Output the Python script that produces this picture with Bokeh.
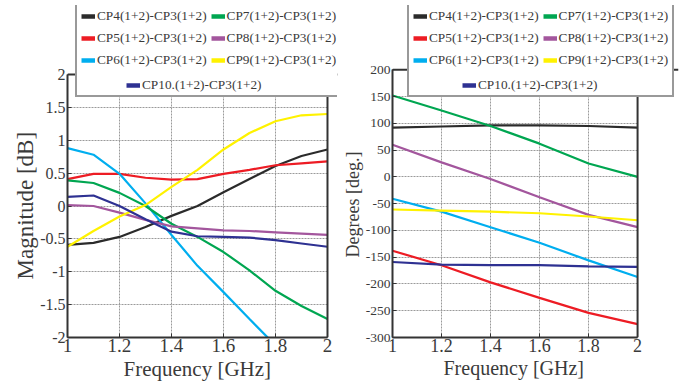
from bokeh.plotting import figure
from bokeh.models import Legend, LegendItem, FixedTicker, Range1d, Span, Title
from bokeh.layouts import row
from bokeh.embed import file_html
from bokeh.resources import INLINE

# ---------------- data ----------------
freq_mag = [1.0, 1.1, 1.2, 1.3, 1.4, 1.5, 1.6, 1.7, 1.8, 1.9, 2.0]
mag_cp4 = [-0.59, -0.56, -0.47, -0.32, -0.15, 0.00, 0.21, 0.41, 0.61, 0.76, 0.86]
mag_cp5 = [0.41, 0.49, 0.49, 0.43, 0.40, 0.41, 0.49, 0.55, 0.62, 0.65, 0.68]
mag_cp6 = [0.88, 0.78, 0.49, 0.04, -0.44, -0.91, -1.31, -1.72, -2.12, -2.5, -2.9]
mag_cp7 = [0.39, 0.35, 0.20, 0.00, -0.27, -0.47, -0.70, -0.98, -1.29, -1.52, -1.72]
mag_cp8 = [0.015, 0.00, -0.10, -0.21, -0.31, -0.34, -0.37, -0.38, -0.40, -0.42, -0.44]
mag_cp9 = [-0.62, -0.38, -0.16, 0.015, 0.29, 0.55, 0.86, 1.11, 1.29, 1.38, 1.40]
mag_cp10 = [0.14, 0.16, 0.00, -0.20, -0.39, -0.46, -0.47, -0.48, -0.52, -0.57, -0.62]

freq_ph = [1.0, 1.2, 1.4, 1.6, 1.8, 2.0]
ph_cp4 = [92, 94, 96, 96, 95, 92]
ph_cp5 = [-138, -165, -197, -226, -254, -275]
ph_cp6 = [-41, -65, -94, -123, -156, -187]
ph_cp7 = [152, 124, 95, 62, 25, 0]
ph_cp8 = [60, 27, -4, -38, -71, -94]
ph_cp9 = [-61, -63, -65, -68, -74, -81]
ph_cp10 = [-159, -164, -165, -165, -167, -168]

series_labels = ["CP4(1+2)-CP3(1+2)", "CP5(1+2)-CP3(1+2)", "CP6(1+2)-CP3(1+2)",
                 "CP7(1+2)-CP3(1+2)", "CP8(1+2)-CP3(1+2)", "CP9(1+2)-CP3(1+2)",
                 "CP10.(1+2)-CP3(1+2)"]
series_colors = ["#2b2b2b", "#ed1c24", "#00aeef", "#00a651", "#a3569d", "#fff200", "#2e3192"]

freq_ticks = [1, 1.2, 1.4, 1.6, 1.8, 2]
freq_tick_labels = ["1", "1.2", "1.4", "1.6", "1.8", "2"]
mag_ticks = [-2, -1.5, -1, -0.5, 0, 0.5, 1, 1.5, 2]
mag_tick_labels = ["-2", "-1.5", "-1", "-0.5", "0", "0.5", "1", "1.5", "2"]
ph_ticks = [-300, -250, -200, -150, -100, -50, 0, 50, 100, 150, 200]
ph_tick_labels = ["-300", "-250", "-200", "-150", "-100", "-50", "0", "50", "100", "150", "200"]

FONT = "Liberation Serif"
TXT = "#3a3a3a"
FRAME = "#333333"


def style_legend(lg, border):
    lg.label_text_font = FONT
    lg.label_text_font_size = "13.3px"
    lg.label_text_color = TXT
    lg.glyph_width = 14
    lg.glyph_height = 18
    lg.label_height = 18
    lg.label_standoff = 2
    lg.spacing = 4
    lg.padding = 4
    lg.margin = 0
    if border:
        lg.border_line_color = FRAME
        lg.border_line_width = 2
        lg.background_fill_color = "white"
        lg.background_fill_alpha = 1
    else:
        lg.border_line_color = None
        lg.background_fill_alpha = 0


def make_panel(width, height, borders, yvals_list, xvals, yticks, ylabels, ytitle,
               x_extra, y_extra, ytick_size, ytitle_size, ytitle_offset,
               xtick_size, xtitle_size, xtitle_offset, legend_loc, cp10_shift):
    bl, br, bt, bb = borders
    x0, x1 = freq_ticks[0], freq_ticks[-1]
    y0, y1 = yticks[0], yticks[-1]
    # frame extends beyond the data box so the legend can overlap its top
    p = figure(width=width, height=height, output_backend="svg", toolbar_location=None,
               x_range=Range1d(x0, x1 + x_extra), y_range=Range1d(y0, y1 + y_extra),
               min_border_left=bl, min_border_right=br, min_border_top=bt, min_border_bottom=bb)
    p.background_fill_color = "white"
    p.border_fill_color = "white"
    p.outline_line_color = None

    p.xaxis.ticker = FixedTicker(ticks=freq_ticks)
    p.xaxis.major_label_overrides = dict(zip(freq_ticks, freq_tick_labels))
    p.yaxis.ticker = FixedTicker(ticks=yticks)
    p.yaxis.major_label_overrides = dict(zip(yticks, ylabels))
    p.xaxis.bounds = (x0, x1)
    p.yaxis.bounds = (y0, y1)
    for ax in (p.xaxis, p.yaxis):
        ax.axis_line_color = FRAME
        ax.axis_line_width = 2
        ax.major_tick_in = 4
        ax.major_tick_out = 0
        ax.major_tick_line_color = FRAME
        ax.minor_tick_line_color = None
        ax.major_label_text_font = FONT
        ax.major_label_text_color = TXT
    p.xaxis.major_label_text_font_size = xtick_size
    p.xaxis.major_label_standoff = 1
    p.yaxis.major_label_text_font_size = ytick_size
    p.yaxis.major_label_standoff = 2

    # axis titles, centred on the data box rather than on the whole frame
    xt = Title(text="Frequency [GHz]", align="left", offset=xtitle_offset, standoff=0,
               text_font=FONT, text_font_size=xtitle_size, text_color=TXT,
               text_font_style="normal")
    p.add_layout(xt, "below")
    yt = Title(text=ytitle, align="left", offset=ytitle_offset, standoff=0,
               text_font=FONT, text_font_size=ytitle_size, text_color=TXT,
               text_font_style="normal")
    p.add_layout(yt, "left")

    for g in (p.xgrid, p.ygrid):
        g.grid_line_color = "#9a9a9a"
        g.grid_line_dash = "2 1"
        g.grid_line_width = 1
    p.xgrid.cross_bounds = (y0, y1)
    p.ygrid.cross_bounds = (x0, x1)

    items = []
    for yv, lab, col in zip(yvals_list, series_labels, series_colors):
        p.line(xvals, yv, line_color=col, line_width=2.2)
        dummy = p.line([float("nan")], [float("nan")], line_color=col, line_width=4.5)
        items.append(LegendItem(label=lab, renderers=[dummy]))
    blank = p.line([float("nan")], [float("nan")], line_alpha=0)

    # top and right edges of the data box
    p.add_layout(Span(location=y1, dimension="width", line_color=FRAME, line_width=2))
    p.add_layout(Span(location=x1, dimension="height", line_color=FRAME, line_width=2))

    order = [0, 3, 1, 4, 2, 5]
    main_items = [items[i] for i in order] + [LegendItem(label=" ", renderers=[blank])]
    legend = Legend(items=main_items, location=legend_loc, orientation="horizontal", ncols=2)
    style_legend(legend, True)
    p.add_layout(legend, "center")
    lg10 = Legend(items=[items[6]], location=(legend_loc[0] + cp10_shift, legend_loc[1] + 3))
    style_legend(lg10, False)
    p.add_layout(lg10, "center")
    return p


p1 = make_panel(338, 385, (67, 1, 5, 48),
                [mag_cp4, mag_cp5, mag_cp6, mag_cp7, mag_cp8, mag_cp9, mag_cp10], freq_mag,
                mag_ticks, mag_tick_labels, "Magnitude [dB]",
                0.0385, 1.05, "16px", "23px", 58, "19px", "21px", 56, (8, 240), 51)
p2 = make_panel(356, 385, (54, 16, 5, 45),
                [ph_cp4, ph_cp5, ph_cp6, ph_cp7, ph_cp8, ph_cp9, ph_cp10], freq_ph,
                ph_ticks, ph_tick_labels, "Degrees [deg.]",
                0.167, 120, "13.5px", "18px", 80, "18px", "20px", 51, (15, 240), 55)

layout = row(p1, p2)
open("out.html", "w").write(file_html(layout, INLINE))
